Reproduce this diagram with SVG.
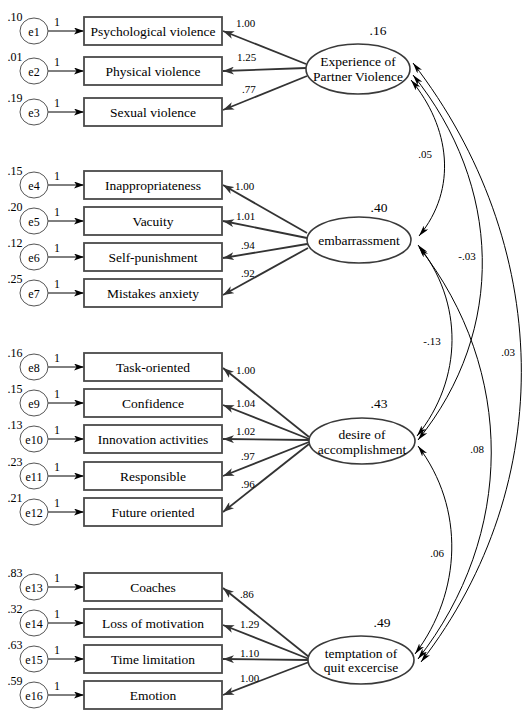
<svg xmlns="http://www.w3.org/2000/svg" width="523" height="712" viewBox="0 0 523 712" font-family="'Liberation Serif', 'Times New Roman', 'DejaVu Serif', serif">
<style>
text{font-family:'Liberation Serif','Times New Roman','DejaVu Serif',serif;fill:#000}
.obs rect{fill:#fff;stroke:#4a4a4a;stroke-width:1.8}
.obs text{font-size:13.5px;text-anchor:middle}
.err ellipse{fill:#fff;stroke:#555;stroke-width:1}
.err text{font-size:12px;text-anchor:middle}
.lat ellipse{fill:#fff;stroke:#3a3a3a;stroke-width:1.6}
.lat text{font-size:13.5px;text-anchor:middle}
.sm{font-size:11px}
.mid{text-anchor:middle}
.ea{stroke:#000;stroke-width:1;fill:none;marker-end:url(#ah1)}
.ld{stroke:#333;stroke-width:1.8;fill:none;marker-end:url(#ah2)}
.cv{stroke:#000;stroke-width:1;fill:none;marker-start:url(#ah3);marker-end:url(#ah3)}
</style>
<defs>
<marker id="ah1" markerUnits="userSpaceOnUse" viewBox="0 0 10 7" refX="10" refY="3.5" markerWidth="10" markerHeight="7" orient="auto"><path d="M0,0 L10,3.5 L0,7 L2.5,3.5 Z" fill="#000"/></marker>
<marker id="ah2" markerUnits="userSpaceOnUse" viewBox="0 0 11 8" refX="11" refY="4" markerWidth="11" markerHeight="8" orient="auto"><path d="M0,0 L11,4 L0,8 L3,4 Z" fill="#333"/></marker>
<marker id="ah3" markerUnits="userSpaceOnUse" viewBox="0 0 11 6" refX="11" refY="3" markerWidth="11" markerHeight="6" orient="auto-start-reverse"><path d="M0,0 L11,3 L0,6 L3,3 Z" fill="#000"/></marker>
</defs>

<g id="connectors">
<path class="ea" d="M48,31 H84"/>
<path class="ea" d="M48,71 H84"/>
<path class="ea" d="M48,112 H84"/>
<path class="ea" d="M48,185 H84"/>
<path class="ea" d="M48,221 H84"/>
<path class="ea" d="M48,257 H84"/>
<path class="ea" d="M48,293 H84"/>
<path class="ea" d="M48,367 H84"/>
<path class="ea" d="M48,403 H84"/>
<path class="ea" d="M48,439 H84"/>
<path class="ea" d="M48,476 H84"/>
<path class="ea" d="M48,512 H84"/>
<path class="ea" d="M48,587 H84"/>
<path class="ea" d="M48,623 H84"/>
<path class="ea" d="M48,659 H84"/>
<path class="ea" d="M48,695 H84"/>
<path class="ld" d="M306,64 L223,31"/>
<path class="ld" d="M306,68 L223,71"/>
<path class="ld" d="M307,76 L223,110"/>
<path class="ld" d="M307,233 L223,185"/>
<path class="ld" d="M307,238 L223,221"/>
<path class="ld" d="M307,244 L223,258"/>
<path class="ld" d="M308,248 L223,295"/>
<path class="ld" d="M309,437 L223,368"/>
<path class="ld" d="M309,439 L223,405"/>
<path class="ld" d="M309,440 L223,439"/>
<path class="ld" d="M309,442 L223,476"/>
<path class="ld" d="M309,444 L223,512"/>
<path class="ld" d="M309,657 L223,588"/>
<path class="ld" d="M309,659 L223,625"/>
<path class="ld" d="M309,660 L223,659"/>
<path class="ld" d="M309,662 L223,695"/>
<path class="cv" d="M411,80 C450,127 458,189 419,236"/>
<path class="cv" d="M413,75 C502,185 507,330 418,440"/>
<path class="cv" d="M413,63 C552,243 560,482 421,662"/>
<path class="cv" d="M418,245 C464,302 463,379 417,436"/>
<path class="cv" d="M419,247 C516,371 515,535 418,659"/>
<path class="cv" d="M418,446 C465,508 462,592 415,654"/>
<text class="sm" x="236" y="27">1.00</text>
<text class="sm" x="237" y="61">1.25</text>
<text class="sm" x="242" y="93">.77</text>
<text class="sm" x="235" y="190">1.00</text>
<text class="sm" x="236" y="220">1.01</text>
<text class="sm" x="241" y="249">.94</text>
<text class="sm" x="241" y="277">.92</text>
<text class="sm" x="236" y="374">1.00</text>
<text class="sm" x="236" y="407">1.04</text>
<text class="sm" x="236" y="435">1.02</text>
<text class="sm" x="241" y="460">.97</text>
<text class="sm" x="241" y="488">.96</text>
<text class="sm" x="240" y="598">.86</text>
<text class="sm" x="240" y="628">1.29</text>
<text class="sm" x="240" y="657">1.10</text>
<text class="sm" x="240" y="682">1.00</text>
<text class="sm mid" x="425" y="158">.05</text>
<text class="sm mid" x="467" y="260">-.03</text>
<text class="sm mid" x="508" y="356">.03</text>
<text class="sm mid" x="432" y="345">-.13</text>
<text class="sm mid" x="477" y="453">.08</text>
<text class="sm mid" x="437" y="557">.06</text>
</g>

<g id="e1" class="err"><ellipse cx="34" cy="31" rx="14" ry="13"/><text x="34" y="35.5">e1</text><text class="sm" x="15" y="21">.10</text><text class="sm" x="57" y="26">1</text></g>
<g id="e2" class="err"><ellipse cx="34" cy="71" rx="14" ry="13"/><text x="34" y="75.5">e2</text><text class="sm" x="15" y="61">.01</text><text class="sm" x="57" y="66">1</text></g>
<g id="e3" class="err"><ellipse cx="34" cy="112" rx="14" ry="13"/><text x="34" y="116.5">e3</text><text class="sm" x="15" y="102">.19</text><text class="sm" x="57" y="107">1</text></g>
<g id="e4" class="err"><ellipse cx="34" cy="185" rx="14" ry="13"/><text x="34" y="189.5">e4</text><text class="sm" x="15" y="175">.15</text><text class="sm" x="57" y="180">1</text></g>
<g id="e5" class="err"><ellipse cx="34" cy="221" rx="14" ry="13"/><text x="34" y="225.5">e5</text><text class="sm" x="15" y="211">.20</text><text class="sm" x="57" y="216">1</text></g>
<g id="e6" class="err"><ellipse cx="34" cy="257" rx="14" ry="13"/><text x="34" y="261.5">e6</text><text class="sm" x="15" y="247">.12</text><text class="sm" x="57" y="252">1</text></g>
<g id="e7" class="err"><ellipse cx="34" cy="293" rx="14" ry="13"/><text x="34" y="297.5">e7</text><text class="sm" x="15" y="283">.25</text><text class="sm" x="57" y="288">1</text></g>
<g id="e8" class="err"><ellipse cx="34" cy="367" rx="14" ry="13"/><text x="34" y="371.5">e8</text><text class="sm" x="15" y="357">.16</text><text class="sm" x="57" y="362">1</text></g>
<g id="e9" class="err"><ellipse cx="34" cy="403" rx="14" ry="13"/><text x="34" y="407.5">e9</text><text class="sm" x="15" y="393">.15</text><text class="sm" x="57" y="398">1</text></g>
<g id="e10" class="err"><ellipse cx="34" cy="439" rx="14" ry="13"/><text x="34" y="443.5">e10</text><text class="sm" x="15" y="429">.13</text><text class="sm" x="57" y="434">1</text></g>
<g id="e11" class="err"><ellipse cx="34" cy="476" rx="14" ry="13"/><text x="34" y="480.5">e11</text><text class="sm" x="15" y="466">.23</text><text class="sm" x="57" y="471">1</text></g>
<g id="e12" class="err"><ellipse cx="34" cy="512" rx="14" ry="13"/><text x="34" y="516.5">e12</text><text class="sm" x="15" y="502">.21</text><text class="sm" x="57" y="507">1</text></g>
<g id="e13" class="err"><ellipse cx="34" cy="587" rx="14" ry="13"/><text x="34" y="591.5">e13</text><text class="sm" x="15" y="577">.83</text><text class="sm" x="57" y="582">1</text></g>
<g id="e14" class="err"><ellipse cx="34" cy="623" rx="14" ry="13"/><text x="34" y="627.5">e14</text><text class="sm" x="15" y="613">.32</text><text class="sm" x="57" y="618">1</text></g>
<g id="e15" class="err"><ellipse cx="34" cy="659" rx="14" ry="13"/><text x="34" y="663.5">e15</text><text class="sm" x="15" y="649">.63</text><text class="sm" x="57" y="654">1</text></g>
<g id="e16" class="err"><ellipse cx="34" cy="695" rx="14" ry="13"/><text x="34" y="699.5">e16</text><text class="sm" x="15" y="685">.59</text><text class="sm" x="57" y="690">1</text></g>

<g id="psychological" class="obs"><rect x="84" y="17" width="138" height="28"/><text x="153" y="35.5">Psychological violence</text></g>
<g id="physical" class="obs"><rect x="84" y="57" width="138" height="28"/><text x="153" y="75.5">Physical violence</text></g>
<g id="sexual" class="obs"><rect x="84" y="98" width="138" height="28"/><text x="153" y="116.5">Sexual violence</text></g>
<g id="inappropriateness" class="obs"><rect x="84" y="171" width="138" height="28"/><text x="153" y="189.5">Inappropriateness</text></g>
<g id="vacuity" class="obs"><rect x="84" y="207" width="138" height="28"/><text x="153" y="225.5">Vacuity</text></g>
<g id="self-punishment" class="obs"><rect x="84" y="243" width="138" height="28"/><text x="153" y="261.5">Self-punishment</text></g>
<g id="mistakes" class="obs"><rect x="84" y="279" width="138" height="28"/><text x="153" y="297.5">Mistakes anxiety</text></g>
<g id="task" class="obs"><rect x="84" y="353" width="138" height="28"/><text x="153" y="371.5">Task-oriented</text></g>
<g id="confidence" class="obs"><rect x="84" y="389" width="138" height="28"/><text x="153" y="407.5">Confidence</text></g>
<g id="innovation" class="obs"><rect x="84" y="425" width="138" height="28"/><text x="153" y="443.5">Innovation activities</text></g>
<g id="responsible" class="obs"><rect x="84" y="462" width="138" height="28"/><text x="153" y="480.5">Responsible</text></g>
<g id="future" class="obs"><rect x="84" y="498" width="138" height="28"/><text x="153" y="516.5">Future oriented</text></g>
<g id="coaches" class="obs"><rect x="84" y="573" width="138" height="28"/><text x="153" y="591.5">Coaches</text></g>
<g id="loss" class="obs"><rect x="84" y="609" width="138" height="28"/><text x="153" y="627.5">Loss of motivation</text></g>
<g id="time" class="obs"><rect x="84" y="645" width="138" height="28"/><text x="153" y="663.5">Time limitation</text></g>
<g id="emotion" class="obs"><rect x="84" y="681" width="138" height="28"/><text x="153" y="699.5">Emotion</text></g>

<g id="experience" class="lat"><ellipse cx="358" cy="69" rx="52" ry="25"/><text x="358" y="66">Experience of</text><text x="358" y="81">Partner Violence</text><text class="sm" x="378" y="35">.16</text></g>
<g id="embarrassment" class="lat"><ellipse cx="359" cy="240" rx="52" ry="23"/><text x="359" y="245">embarrassment</text><text class="sm" x="379" y="212">.40</text></g>
<g id="desire" class="lat"><ellipse cx="362" cy="441" rx="53" ry="23"/><text x="362" y="439">desire of</text><text x="362" y="454">accomplishment</text><text class="sm" x="379" y="408">.43</text></g>
<g id="temptation" class="lat"><ellipse cx="361" cy="660" rx="53" ry="24"/><text x="361" y="658">temptation of</text><text x="361" y="672">quit excercise</text><text class="sm" x="382" y="627">.49</text></g>
</svg>
